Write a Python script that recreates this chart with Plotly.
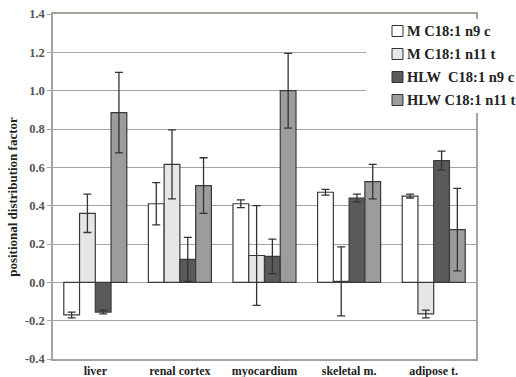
import plotly.graph_objects as go

categories = ["liver", "renal cortex", "myocardium", "skeletal m.", "adipose t."]
series_names = ["M C18:1 n9 c", "M C18:1 n11 t", "HLW  C18:1 n9 c", "HLW C18:1 n11 t"]
values = [
    [-0.17, 0.41, 0.41, 0.47, 0.45],
    [0.36, 0.615, 0.14, 0.005, -0.165],
    [-0.155, 0.12, 0.135, 0.44, 0.635],
    [0.885, 0.505, 1.0, 0.525, 0.275],
]
errors = [
    [0.015, 0.11, 0.02, 0.015, 0.01],
    [0.10, 0.18, 0.26, 0.18, 0.02],
    [0.01, 0.115, 0.09, 0.02, 0.05],
    [0.21, 0.145, 0.195, 0.09, 0.215],
]
colors = ["#ffffff", "#e4e6e8", "#5a5a5a", "#9c9c9c"]
y_ticks = [-0.4, -0.2, 0.0, 0.2, 0.4, 0.6, 0.8, 1.0, 1.2, 1.4]
y_title = "positional distribution factor"

W, H = 516, 377
ML, MR, MT, MB = 53, 40, 14, 18
PW, PH = W - ML - MR, H - MT - MB


def px_x(x):
    return (x - ML) / PW


def px_y(y):
    return 1 - (y - MT) / PH


fig = go.Figure()
for name, vals, errs, col in zip(series_names, values, errors, colors):
    fig.add_trace(go.Bar(
        x=categories, y=vals, name=name, showlegend=False,
        marker=dict(color=col, line=dict(color="#3a3a3a", width=1.2)),
        error_y=dict(type="data", array=errs, visible=True,
                     color="#333333", thickness=1.3, width=4),
    ))

serif = "Liberation Serif, DejaVu Serif, serif"

# legend (drawn as a white box with keys and labels)
fig.add_shape(type="rect", xref="paper", yref="paper", layer="above",
              x0=px_x(366), x1=px_x(517), y0=px_y(113), y1=px_y(19),
              fillcolor="white", line=dict(width=0))
row_y = 31
for name, col in zip(series_names, colors):
    fig.add_shape(type="rect", xref="paper", yref="paper", layer="above",
                  x0=px_x(392), x1=px_x(403), y0=px_y(row_y + 5.5), y1=px_y(row_y - 5.5),
                  fillcolor=col, line=dict(color="#333333", width=1))
    fig.add_annotation(text=name, xref="paper", yref="paper",
                       x=px_x(405), y=px_y(row_y), xanchor="left", yanchor="middle",
                       showarrow=False,
                       font=dict(size=14.5, family=serif, color="#222222", weight="bold"))
    row_y += 23

fig.add_annotation(
    text=y_title, textangle=-90, xref="paper", yref="paper",
    x=0, y=0.47, xanchor="center", yanchor="middle", xshift=-40, showarrow=False,
    font=dict(size=13, family=serif, color="#222222", weight="bold"),
)
fig.update_layout(
    width=W, height=H,
    barmode="group", bargap=0.255, bargroupgap=0,
    margin=dict(l=ML, r=MR, t=MT, b=MB),
    paper_bgcolor="white", plot_bgcolor="white",
    font=dict(family=serif, color="#333333"),
    showlegend=False,
    xaxis=dict(
        showline=True, linecolor="#a8a29c", linewidth=1.5, mirror=True,
        showgrid=False, ticks="", automargin=False,
        tickfont=dict(size=12, family=serif, color="#222222", weight="bold"),
    ),
    yaxis=dict(
        range=[-0.4, 1.4], tickvals=y_ticks,
        ticktext=[f"{v:.1f}" for v in y_ticks],
        showline=True, linecolor="#a8a29c", linewidth=1.5, mirror=True,
        showgrid=True, gridcolor="#aaa39c", gridwidth=1,
        zeroline=True, zerolinecolor="#aaa39c", zerolinewidth=1,
        ticks="outside", ticklen=4, tickcolor="#a8a29c", automargin=False,
        tickfont=dict(size=12.5, family=serif, color="#555555", weight="bold"),
    ),
)
fig.write_html("out.html", config={"displayModeBar": False},
               post_script="document.body.style.margin='0';")
